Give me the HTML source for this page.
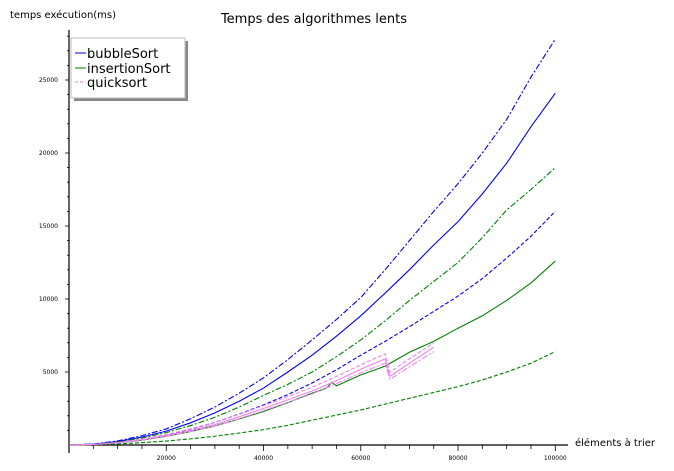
<!DOCTYPE html>
<html><head><meta charset="utf-8"><style>
body{margin:0;background:#fff;}
svg{display:block;font-family:"DejaVu Sans","Liberation Sans",sans-serif;}
</style></head><body>
<svg id="chart" width="674" height="471" viewBox="0 0 674 471" xmlns="http://www.w3.org/2000/svg">
<text x="314" y="23" font-size="13" text-anchor="middle">Temps des algorithmes lents</text>
<text x="10" y="18" font-size="10">temps exécution(ms)</text>
<text x="575" y="446" font-size="10">éléments à trier</text>
<g id="axes"></g>
<g id="series"></g>
<g>
<rect x="74" y="41" width="114" height="60" fill="#888"/>
<rect x="71" y="38" width="114" height="60" fill="#fff" stroke="#bbb"/>
<line x1="75" y1="53" x2="86" y2="53" stroke="blue"/>
<text x="87" y="58" font-size="13">bubbleSort</text>
<line x1="75" y1="68" x2="86" y2="68" stroke="green"/>
<text x="87" y="73" font-size="13">insertionSort</text>
<line x1="75" y1="82" x2="86" y2="82" stroke="violet" stroke-dasharray="3,2"/>
<text x="87" y="87" font-size="13">quicksort</text>
</g>
</svg>
<script>
const xs = [0,5000,10000,15000,20000,25000,30000,35000,40000,45000,50000,55000,60000,65000,70000,75000,80000,85000,90000,95000,100000];
const bubbleDashDot = [0,70,280,640,1100,1800,2600,3550,4600,5850,7200,8600,10100,12000,14000,16000,17900,20000,22300,25200,27800];
const bubbleSolid = [0,60,230,540,950,1520,2200,3000,3900,5000,6150,7450,8850,10400,12000,13700,15300,17200,19300,21800,24100];
const bubbleDashed = [0,40,170,380,700,1080,1550,2120,2750,3450,4250,5150,6150,7100,8100,9150,10200,11400,12800,14300,16000];
const insDashDot = [0,50,200,480,850,1330,1900,2600,3400,4150,5000,6050,7200,8500,9900,11200,12500,14200,16100,17500,19000];
const insSolidX = [0,5000,10000,15000,20000,25000,30000,35000,40000,45000,50000,53000,54000,55000,60000,65000,70000,75000,80000,85000,90000,95000,100000];
const insSolid = [0,40,150,330,600,920,1300,1780,2300,2900,3550,3900,4300,4050,4800,5400,6350,7100,8000,8850,9900,11100,12600];
const insDashed = [0,20,70,160,270,420,600,820,1050,1350,1700,2050,2400,2800,3200,3600,4000,4450,5000,5600,6400];
const qsX = [0,5000,10000,15000,20000,25000,30000,35000,40000,45000,50000,55000,60000,65000,66000,70000,75000];
const qsSolid = [0,40,150,360,650,1000,1400,1930,2500,3100,3700,4400,5200,5900,4700,5600,6700];
const qsDashed = [0,45,170,400,720,1100,1550,2100,2700,3300,3950,4700,5500,6250,5000,5900,7000];
const qsDashDot = [0,35,140,340,600,930,1300,1800,2350,2920,3500,4200,4950,5600,4500,5350,6400];
const yTicks = [5000,10000,15000,20000,25000];
const xTicks = [20000,40000,60000,80000,100000];
const NS="http://www.w3.org/2000/svg";
const X = v => 69 + v*0.004863;
const Y = v => 445 - v*0.0146;
const ax=document.getElementById('axes'), sg=document.getElementById('series');
function mk(tag,attrs,parent){const e=document.createElementNS(NS,tag);for(const k in attrs)e.setAttribute(k,attrs[k]);parent.appendChild(e);return e;}
let a=mk('line',{x1:69,y1:30,x2:69,y2:453,stroke:'#000','stroke-width':1.2},ax);


a=mk('line',{x1:69,y1:445,x2:568,y2:445,stroke:'#000','stroke-width':1.2},ax);


for(let v=1000;v<=28000;v+=1000){const major=v%5000===0;mk('line',{x1:major?65:67,y1:Y(v),x2:69,y2:Y(v),stroke:'#000','stroke-width':0.8},ax);}
for(let v=5000;v<=100000;v+=5000){const major=v%20000===0;mk('line',{x1:X(v),y1:445,x2:X(v),y2:major?451:449,stroke:'#000','stroke-width':0.8},ax);}
yTicks.forEach(v=>{const t=mk('text',{x:58,y:Y(v)+2,'font-size':6,'text-anchor':'end'},ax);t.textContent=v;

});
xTicks.forEach(v=>{const t=mk('text',{x:X(v),y:460,'font-size':6,'text-anchor':'middle'},ax);t.textContent=v;

});
function line(xa,ya,color,dash,name){const p=mk('polyline',{points:xa.map((x,i)=>X(x)+','+Y(ya[i])).join(' '),fill:'none',stroke:color,'stroke-width':1.1,'stroke-dasharray':dash},sg);

}
line(xs,bubbleDashDot,'blue','6,2,2,2','bubble-dashdot-line');
line(xs,bubbleSolid,'blue','none','bubble-solid-line');
line(xs,bubbleDashed,'blue','4,2','bubble-dashed-line');
line(xs,insDashDot,'green','6,2,2,2','insertion-dashdot-line');
line(insSolidX,insSolid,'green','none','insertion-solid-line');
line(xs,insDashed,'green','4,2','insertion-dashed-line');
line(qsX,qsSolid,'violet','none','quicksort-solid-line');
line(qsX,qsDashed,'violet','4,2','quicksort-dashed-line');
line(qsX,qsDashDot,'violet','6,2,2,2','quicksort-dashdot-line');
</script>
</body></html>
